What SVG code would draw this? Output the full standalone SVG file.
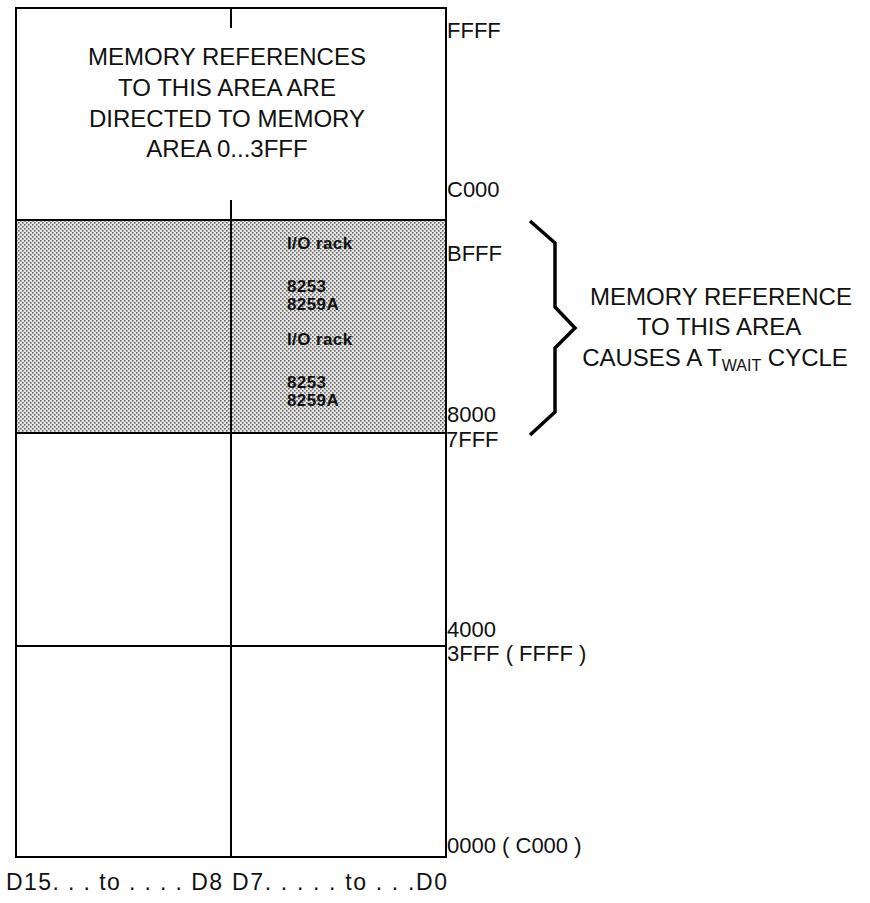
<svg xmlns="http://www.w3.org/2000/svg" width="870" height="903" viewBox="0 0 870 903">
<style>
.ln{stroke:#000;stroke-width:2}
.t{font-family:"Liberation Sans",Arial,sans-serif;fill:#111}
.big{font-size:24px;text-anchor:middle}
.addr{font-size:22px}
.io{font-size:17px;font-weight:bold;letter-spacing:0.4px}
</style>
<defs>
<pattern id="dots" width="4" height="4" patternUnits="userSpaceOnUse">
<rect width="4" height="4" fill="#e6e6e6"/>
<rect x="0" y="0" width="1.6" height="1.6" fill="#666"/>
<rect x="2" y="2" width="1.6" height="1.6" fill="#666"/>
</pattern>
</defs>
<rect width="870" height="903" fill="#fff"/>

<g id="area-c000-ffff">
<rect x="16" y="8" width="430" height="212" fill="#fff" class="ln"/>
<line x1="231" y1="8" x2="231" y2="28" class="ln"/>
<line x1="231" y1="200" x2="231" y2="220" class="ln"/>
<text class="t big" x="227" y="65">MEMORY REFERENCES</text>
<text class="t big" x="227" y="96">TO THIS AREA  ARE</text>
<text class="t big" x="227" y="127">DIRECTED TO MEMORY</text>
<text class="t big" x="227" y="157">AREA 0...3FFF</text>
</g>

<g id="area-8000-bfff">
<rect x="16" y="220" width="430" height="213" fill="url(#dots)" class="ln"/>
<line x1="231" y1="220" x2="231" y2="433" class="ln"/>
<text class="t io" x="287" y="249">I/O rack</text>
<text class="t io" x="287" y="292">8253</text>
<text class="t io" x="287" y="310">8259A</text>
<text class="t io" x="287" y="345">I/O rack</text>
<text class="t io" x="287" y="388">8253</text>
<text class="t io" x="287" y="406">8259A</text>
</g>

<g id="area-4000-7fff">
<rect x="16" y="433" width="430" height="213" fill="#fff" class="ln"/>
<line x1="231" y1="433" x2="231" y2="646" class="ln"/>
</g>

<g id="area-0000-3fff">
<rect x="16" y="646" width="430" height="211" fill="#fff" class="ln"/>
<line x1="231" y1="646" x2="231" y2="857" class="ln"/>
</g>

<g id="addresses">
<text class="t addr" x="447" y="38">FFFF</text>
<text class="t addr" x="447" y="197">C000</text>
<text class="t addr" x="447" y="261">BFFF</text>
<text class="t addr" x="447" y="422">8000</text>
<text class="t addr" x="446" y="447">7FFF</text>
<text class="t addr" x="447" y="637">4000</text>
<text class="t addr" x="447" y="661">3FFF  ( FFFF )</text>
<text class="t addr" x="447" y="853">0000 ( C000 )</text>
</g>

<g id="bit-labels">
<text class="t" font-size="23" x="6" y="890" textLength="216" lengthAdjust="spacing">D15. . . to . . . .  D8</text>
<text class="t" font-size="23" x="232" y="890" textLength="215" lengthAdjust="spacing">D7. . . . . to . . .D0</text>
</g>

<g id="connectors">
<path d="M530,221 L555,243 L555,307 L575,328 L555,348 L555,412 L530,435" fill="none" stroke="#000" stroke-width="3.5" stroke-linejoin="miter"/>
</g>

<g id="wait-note">
<text class="t big" x="721" y="305">MEMORY REFERENCE</text>
<text class="t big" x="719" y="335">TO THIS AREA</text>
<text class="t big" x="715" y="366">CAUSES A T<tspan font-size="16" dy="5">WAIT</tspan><tspan dy="-5"> CYCLE</tspan></text>
</g>
</svg>
